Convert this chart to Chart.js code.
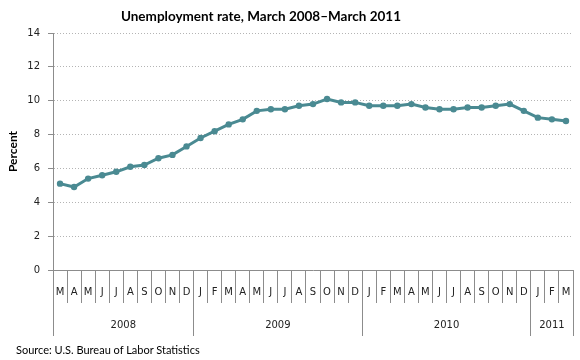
<!DOCTYPE html>
<html>
<head>
<meta charset="utf-8">
<script src="https://cdn.jsdelivr.net/npm/chart.js@4/dist/chart.umd.min.js"></script>
<style>
  body { margin: 0; background: #fff; }
  #wrap { position: relative; width: 580px; height: 360px; }
  #title { position: absolute; left: 0; top: 8px; width: 522px; text-align: center;
           font: bold 13.5px Lato, sans-serif; color: #000; }
  #source { position: absolute; left: 16px; top: 343px;
            font: 11px Lato, sans-serif; color: #000; }
</style>
</head>
<body>
<div id="wrap">
  <canvas id="chart" width="580" height="360"></canvas>
  <div id="title">Unemployment rate, March 2008–March 2011</div>
  <div id="source">Source: U.S. Bureau of Labor Statistics</div>
</div>
<script>
const months = [
  'M','A','M','J','J','A','S','O','N','D',
  'J','F','M','A','M','J','J','A','S','O','N','D',
  'J','F','M','A','M','J','J','A','S','O','N','D',
  'J','F','M'
];
const rate = [
  5.1, 4.9, 5.4, 5.6, 5.8, 6.1, 6.2, 6.6, 6.8, 7.3,
  7.8, 8.2, 8.6, 8.9, 9.4, 9.5, 9.5, 9.7, 9.8, 10.1, 9.9, 9.9,
  9.7, 9.7, 9.7, 9.8, 9.6, 9.5, 9.5, 9.6, 9.6, 9.7, 9.8, 9.4,
  9.0, 8.9, 8.8
];
const years = ['2008', '2009', '2010', '2011'];
const monthsInYear = [10, 12, 12, 3];
const yTicks = [0, 2, 4, 6, 8, 10, 12, 14];

// year axis: separators at year boundaries, labels at the middle of each year
const yearEdges = [-0.5];
const yearMids = [];
monthsInYear.forEach(n => {
  const start = yearEdges[yearEdges.length - 1];
  yearMids.push(start + n / 2);
  yearEdges.push(start + n);
});

const lineColor = '#4a8a92';
const axisGray = '#8c8c8c';
const tickFont = { family: 'DejaVu Sans', size: 10 };

new Chart(document.getElementById('chart'), {
  type: 'line',
  data: {
    labels: months,
    datasets: [{
      data: rate,
      borderColor: lineColor,
      backgroundColor: lineColor,
      borderWidth: 3,
      pointRadius: 3.2,
      pointBorderWidth: 0,
      pointBackgroundColor: lineColor,
      tension: 0
    }]
  },
  options: {
    responsive: false,
    animation: false,
    layout: { padding: { top: 33, left: 5, right: 7, bottom: 24 } },
    plugins: { legend: { display: false }, tooltip: { enabled: false } },
    scales: {
      x: {
        type: 'category',
        position: 'bottom',
        weight: 0,
        offset: true,
        grid: {
          offset: true,
          drawOnChartArea: false,
          tickLength: 33,
          tickColor: axisGray
        },
        border: { color: axisGray },
        ticks: {
          autoSkip: false, maxRotation: 0, padding: -17,
          color: '#222', font: tickFont
        },
        afterFit: axis => { axis.height = 29; }
      },
      years: {
        type: 'linear',
        position: 'bottom',
        weight: 1,
        min: -0.5,
        max: months.length - 0.5,
        afterBuildTicks: axis => {
          axis.ticks = yearEdges.concat(yearMids).sort((a, b) => a - b).map(v => ({ value: v }));
        },
        grid: {
          drawOnChartArea: false,
          tickLength: 37,
          tickColor: ctx => yearEdges.includes(ctx.tick.value) ? axisGray : 'rgba(0,0,0,0)'
        },
        border: { display: false },
        ticks: {
          autoSkip: false, maxRotation: 0, padding: -17,
          color: '#222', font: tickFont,
          callback: v => {
            const i = yearMids.indexOf(v);
            return i >= 0 ? years[i] : '';
          }
        },
        afterFit: axis => { axis.height = 37; }
      },
      y: {
        min: 0,
        max: 14,
        afterBuildTicks: axis => { axis.ticks = yTicks.map(v => ({ value: v })); },
        grid: {
          color: '#b4b4b4',
          tickColor: axisGray,
          tickLength: 5
        },
        border: { color: axisGray, dash: [1, 2] },
        ticks: { padding: 8, color: '#222', font: tickFont },
        title: {
          display: true,
          text: 'Percent',
          color: '#000',
          font: { family: 'Lato', size: 12, weight: 'bold' },
          padding: { top: 1, bottom: 0 }
        },
        afterFit: axis => { axis.width = 48; }
      }
    }
  }
});
</script>
</body>
</html>
